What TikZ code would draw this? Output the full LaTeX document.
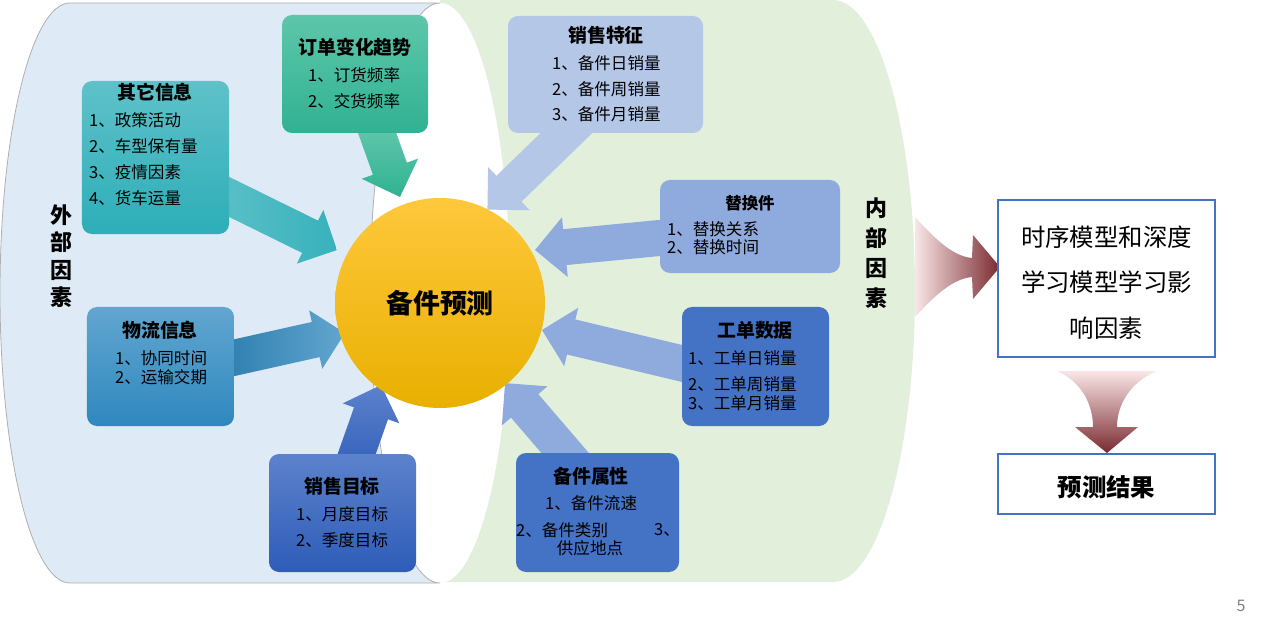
\documentclass[tikz,border=0pt]{standalone}
\usepackage{fontspec}
\setmainfont{Noto Sans CJK SC}
\usetikzlibrary{calc}
\definecolor{bgblue}{RGB}{222,235,247}
\definecolor{bggreen}{RGB}{226,239,218}
\definecolor{bgline}{RGB}{175,175,175}
\definecolor{ddT}{RGB}{94,198,170}\definecolor{ddB}{RGB}{48,178,146}
\definecolor{qtT}{RGB}{95,193,201}\definecolor{qtB}{RGB}{45,174,184}
\definecolor{wlT}{RGB}{98,166,208}\definecolor{wlB}{RGB}{46,136,190}
\definecolor{mbT}{RGB}{92,130,204}\definecolor{mbB}{RGB}{46,92,184}
\definecolor{tzC}{RGB}{180,199,231}
\definecolor{thC}{RGB}{143,170,220}
\definecolor{gdC}{RGB}{68,114,196}
\definecolor{ylT}{RGB}{255,200,60}\definecolor{ylM}{RGB}{255,196,0}\definecolor{ylB}{RGB}{232,176,0}
\definecolor{redL}{RGB}{250,230,230}\definecolor{redD}{RGB}{122,42,48}
\definecolor{frameblue}{RGB}{68,114,196}
\definecolor{pagegray}{RGB}{128,128,128}
\newdimen\arwAx \newdimen\arwAy \newdimen\arwBx \newdimen\arwBy
\newcommand\blockarrow[3]{%
  \pgfextractx{\arwAx}{\pgfpointanchor{#2}{center}}%
  \pgfextracty{\arwAy}{\pgfpointanchor{#2}{center}}%
  \pgfextractx{\arwBx}{\pgfpointanchor{#3}{center}}%
  \pgfextracty{\arwBy}{\pgfpointanchor{#3}{center}}%
  \pgfmathsetmacro\arwang{atan2(\arwBy-\arwAy,\arwBx-\arwAx)}%
  \pgfmathsetmacro\arwlen{veclen(\arwBx-\arwAx,\arwBy-\arwAy)/1.00375}%
  \pgfmathsetmacro\arwhl{\arwlen-30}%
  \begin{scope}[shift={(#2)},rotate=\arwang]
    \path[#1] (0,-18) -- (\arwhl,-18) -- (\arwhl,-30) -- (\arwlen,0) -- (\arwhl,30) -- (\arwhl,18) -- (0,18) -- cycle;
  \end{scope}}
\tikzset{
  itm/.style={inner sep=0pt, anchor=west, font=\fontsize{16.6}{16.6}\selectfont},
  itmc/.style={inner sep=0pt, font=\fontsize{16.6}{16.6}\selectfont},
  ttl/.style={inner sep=0pt, font=\bfseries\fontsize{19}{19}\selectfont},
  cardbox/.style={rectangle, rounded corners=10bp, inner sep=0pt, draw=none},
  sidelabel/.style={inner sep=0pt, align=center, font=\bfseries\fontsize{22}{27.5}\selectfont},
  framebox/.style={rectangle, draw=frameblue, line width=1.3bp, fill=white, inner sep=0pt},
  bigtxt/.style={inner sep=0pt, font=\fontsize{24.5}{24.5}\selectfont},
}
\begin{document}
\begin{tikzpicture}[x=1bp,y=-1bp]
\useasboundingbox (0,0) rectangle (1269,628);
% background cylinder
\fill[bggreen] (440,0) -- (833,0) arc[start angle=90,end angle=-90,x radius=82bp,y radius=291bp] -- (440,582) -- cycle;
\fill[white] (440,293) ellipse[x radius=70bp,y radius=290bp];
\filldraw[fill=bgblue,draw=bgline,line width=0.8bp] (70,3) -- (440,3) arc[start angle=90,end angle=270,x radius=70bp,y radius=290bp] -- (70,583) arc[start angle=270,end angle=90,x radius=70bp,y radius=290bp] -- cycle;
% arrow end points
\coordinate (aS) at (370,113); \coordinate (aT) at (400,197);
\coordinate (bS) at (211,188); \coordinate (bT) at (337,250);
\coordinate (cS) at (215,362); \coordinate (cT) at (345,333);
\coordinate (dS) at (350,473); \coordinate (dT) at (381,385);
\coordinate (eS) at (581,119); \coordinate (eT) at (487,210);
\coordinate (fS) at (680,236); \coordinate (fT) at (535,250);
\coordinate (gS) at (701,368); \coordinate (gT) at (542,330);
\coordinate (hS) at (578,468); \coordinate (hT) at (505,383);
\blockarrow{top color=ddT!90!white,bottom color=ddB}{aS}{aT}
\blockarrow{left color=qtT,right color=qtB!80!qtT}{bS}{bT}
\blockarrow{left color=wlB!90!black,right color=wlT}{cS}{cT}
\blockarrow{bottom color=mbB,top color=mbT}{dS}{dT}
\blockarrow{fill=tzC}{eS}{eT}
\blockarrow{fill=thC}{fS}{fT}
\blockarrow{fill=thC}{gS}{gT}
\blockarrow{fill=thC}{hS}{hT}
% centre circle
\node[circle,minimum size=210bp,inner sep=0pt,top color=ylT,middle color=ylM,bottom color=ylB,font=\bfseries\fontsize{27}{27}\selectfont] (pred) at (440,303) {备件预测};
% boxes
\node[cardbox,minimum width=146bp,minimum height=118bp,top color=ddT,bottom color=ddB] (dingdan) at (355,74) {};
\node[ttl] (dingdanT) at (355,47) {订单变化趋势};
\node[itm] (dingdan1) at (308,75) {1、订货频率};
\node[itm] (dingdan2) at (308,101) {2、交货频率};

\node[cardbox,minimum width=147bp,minimum height=153bp,top color=qtT,bottom color=qtB] (qita) at (155.5,157.5) {};
\node[ttl] (qitaT) at (155,92) {其它信息};
\node[itm] (qita1) at (89,120) {1、政策活动};
\node[itm] (qita2) at (89,146) {2、车型保有量};
\node[itm] (qita3) at (89,172) {3、疫情因素};
\node[itm] (qita4) at (89,198) {4、货车运量};

\node[cardbox,minimum width=147bp,minimum height=119bp,top color=wlT,bottom color=wlB] (wuliu) at (160.5,366.5) {};
\node[ttl] (wuliuT) at (160,330) {物流信息};
\node[itm] (wuliu1) at (115,358) {1、协同时间};
\node[itm] (wuliu2) at (115,377) {2、运输交期};

\node[cardbox,minimum width=147bp,minimum height=118bp,top color=mbT,bottom color=mbB] (mubiao) at (342.5,513) {};
\node[ttl] (mubiaoT) at (342,486) {销售目标};
\node[itm] (mubiao1) at (296,514) {1、月度目标};
\node[itm] (mubiao2) at (296,540) {2、季度目标};

\node[cardbox,minimum width=195bp,minimum height=117bp,fill=tzC] (tezheng) at (605.5,74.5) {};
\node[ttl] (tezhengT) at (606,35) {销售特征};
\node[itm] (tezheng1) at (552,63) {1、备件日销量};
\node[itm] (tezheng2) at (552,89) {2、备件周销量};
\node[itm] (tezheng3) at (552,114) {3、备件月销量};

\node[cardbox,minimum width=180bp,minimum height=93bp,fill=thC] (tihuan) at (750,226.5) {};
\node[ttl,font=\bfseries\fontsize{16.5}{16.5}\selectfont] (tihuanT) at (750,203) {替换件};
\node[itm] (tihuan1) at (667,229) {1、替换关系};
\node[itm] (tihuan2) at (667,247) {2、替换时间};

\node[cardbox,minimum width=147bp,minimum height=119bp,fill=gdC] (gongdan) at (755.5,366.5) {};
\node[ttl] (gongdanT) at (755,330) {工单数据};
\node[itm] (gongdan1) at (688,358) {1、工单日销量};
\node[itm] (gongdan2) at (688,384) {2、工单周销量};
\node[itm] (gongdan3) at (688,403) {3、工单月销量};

\node[cardbox,minimum width=163bp,minimum height=119bp,fill=gdC] (shuxing) at (597.5,512.5) {};
\node[ttl] (shuxingT) at (591,476) {备件属性};
\node[itm] (shuxing1) at (545,503) {1、备件流速};
\node[itm] (shuxing2) at (516,530) {2、备件类别};
\node[itm] (shuxing3) at (654,530) {3、};
\node[itmc] (shuxing4) at (590,548) {供应地点};
% side labels
\node[sidelabel] (waibu) at (61,256) {外\\部\\因\\素};
\node[sidelabel,font=\bfseries\fontsize{22}{30}\selectfont] (neibu) at (876,253) {内\\部\\因\\素};
% right part
\shade[left color=redL,right color=redD] (915,217) .. controls (930,233) and (950,256) .. (972,258) -- (973,235) -- (1000,267) -- (973,299) -- (972,277) .. controls (950,279) and (930,301) .. (915,317) -- cycle;
\node[framebox,minimum width=217bp,minimum height=157bp] (model) at (1106.5,278.5) {};
\node[bigtxt] (model1) at (1106.5,237) {时序模型和深度};
\node[bigtxt] (model2) at (1106.5,282) {学习模型学习影};
\node[bigtxt] (model3) at (1106.5,328) {响因素};
\shade[top color=redL,bottom color=redD] (1057,371) -- (1157,371) .. controls (1130,382) and (1117,405) .. (1117,427) -- (1138,427) -- (1107,453) -- (1075,427) -- (1093,427) .. controls (1093,405) and (1082,382) .. (1057,371) -- cycle;
\node[framebox,minimum width=217bp,minimum height=60bp] (result) at (1106.5,484) {};
\node[bigtxt,font=\bfseries\fontsize{24.5}{24.5}\selectfont] (resultT) at (1106.5,487) {预测结果};
\node[inner sep=0pt,text=pagegray,font=\fontsize{16}{16}\selectfont] (pagenum) at (1241,606) {5};
\end{tikzpicture}
\end{document}
